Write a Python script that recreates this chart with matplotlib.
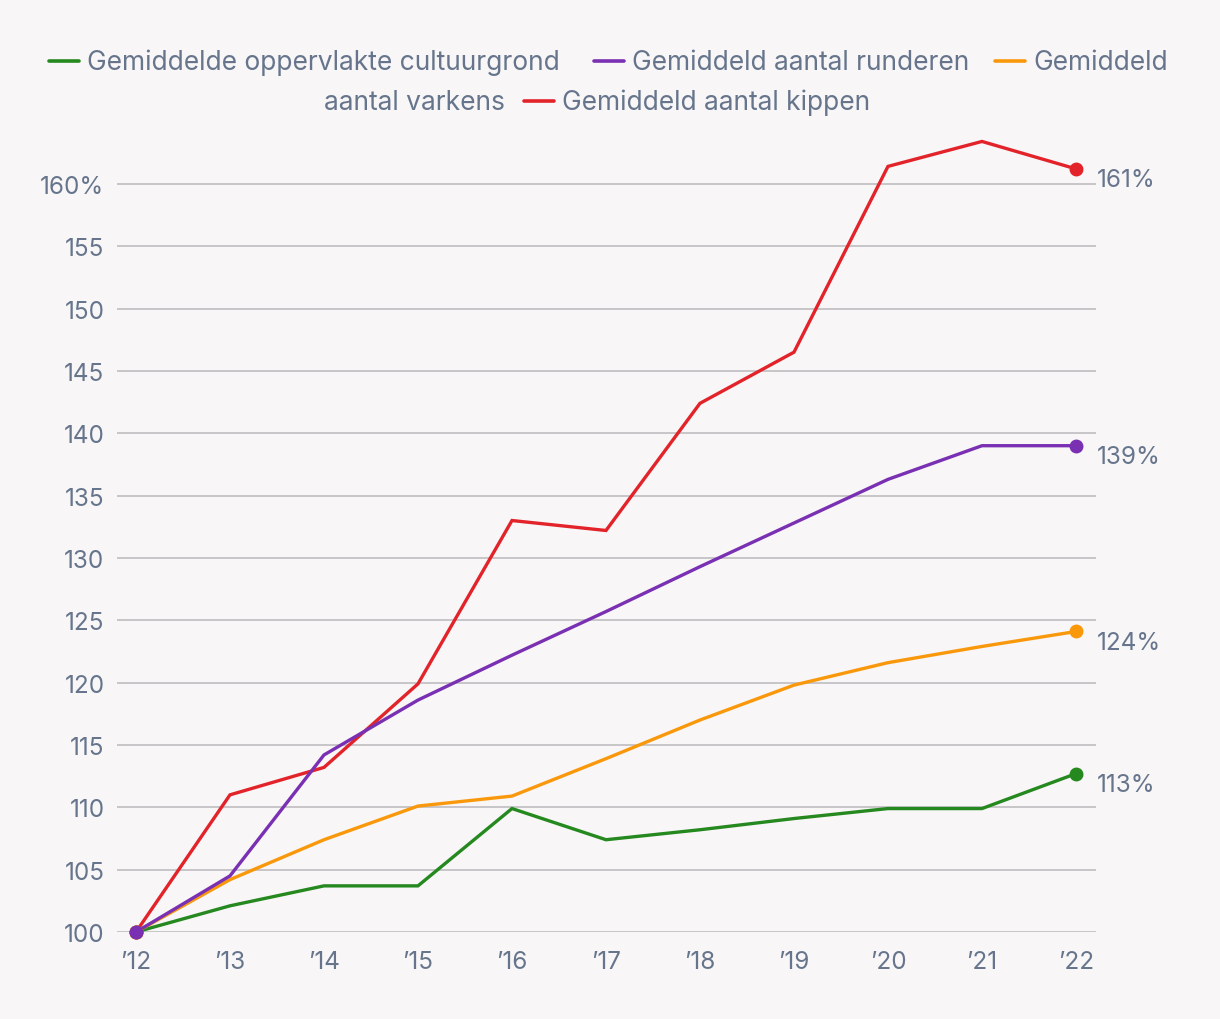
#!/usr/bin/env python3

import matplotlib
matplotlib.use('Agg')
import matplotlib.pyplot as plt
from matplotlib.lines import Line2D
import sys

years = ["’12", "’13", "’14", "’15", "’16", "’17", "’18", "’19", "’20", "’21", "’22"]

cultuurgrond = [100, 102.1, 103.7, 103.7, 109.9, 107.4, 108.2, 109.1, 109.9, 109.9, 112.7]
runderen = [100, 104.5, 114.2, 118.6, 122.2, 125.7, 129.3, 132.8, 136.3, 139.0, 139.0]
varkens = [100, 104.2, 107.4, 110.1, 110.9, 113.9, 117.0, 119.8, 121.6, 122.9, 124.1]
kippen = [100, 111.0, 113.2, 119.9, 133.0, 132.2, 142.4, 146.5, 161.4, 163.4, 161.2]

end_labels = ["113%", "139%", "124%", "161%"]

GREEN = '#25891f'
PURPLE = '#7a30b2'
ORANGE = '#fa980c'
RED = '#e2242a'
TEXT = '#66758c'
GRID = '#c3c1c5'
BG = '#f8f6f7'

W, H = 1220, 1020


def px(x, y):
    return x / W, 1 - y / H


def main():
    plt.rcParams['font.family'] = ['Inter', 'DejaVu Sans']
    fig = plt.figure(figsize=(W / 100, H / 100), dpi=100, facecolor=BG)
    ax = fig.add_axes([117 / W, 1 - 933 / H, (1096 - 117) / W, (933 - 122.5) / H])
    ax.set_facecolor(BG)

    x = list(range(len(years)))
    series = [
        (cultuurgrond, GREEN, end_labels[0]),
        (varkens, ORANGE, end_labels[2]),
        (kippen, RED, end_labels[3]),
        (runderen, PURPLE, end_labels[1]),
    ]
    for vals, col, lab in series:
        ax.plot(x, vals, color=col, lw=2.4, solid_joinstyle='miter', zorder=3, clip_on=False)
        ax.plot([x[0], x[-1]], [vals[0], vals[-1]], 'o', color=col, ms=9, zorder=4, clip_on=False)
        ax.annotate(lab, (x[-1], vals[-1]), xytext=(15, -8), textcoords='offset points',
                    ha='left', va='center', fontsize=17.5, color=TEXT)

    ax.set_xlim(-0.202, 10.213)
    ax.set_ylim(100, 165)
    yt = list(range(100, 161, 5))
    ax.set_yticks(yt)
    ax.set_yticklabels([str(v) if v != 160 else '160%' for v in yt])
    ax.set_xticks(x)
    ax.set_xticklabels(years)
    for v in yt:
        ax.axhline(v, color=GRID, lw=1.3, zorder=1)
    ax.tick_params(axis='both', length=0, labelsize=17.5, labelcolor=TEXT)
    ax.tick_params(axis='y', pad=9)
    ax.tick_params(axis='x', pad=13)
    for s in ax.spines.values():
        s.set_visible(False)

    # legend, laid out by hand (wraps over two rows like the original)
    items = [
        (GREEN, 49, 63, 'Gemiddelde oppervlakte cultuurgrond'),
        (PURPLE, 594, 63, 'Gemiddeld aantal runderen'),
        (ORANGE, 995, 63, 'Gemiddeld'),
        (RED, 524, 103, 'Gemiddeld aantal kippen'),
    ]
    for col, lx, ly, txt in items:
        x0, y0 = px(lx, ly - 1)
        x1, _ = px(lx + 30, ly)
        fig.add_artist(Line2D([x0, x1], [y0, y0], color=col, lw=2.6, solid_capstyle='round'))
        tx, ty = px(lx + 38, ly)
        fig.text(tx, ty, txt, ha='left', va='center', fontsize=19, color=TEXT)
    tx, ty = px(324, 103)
    fig.text(tx, ty, 'aantal varkens', ha='left', va='center', fontsize=19, color=TEXT)

    fig.savefig('out.png', dpi=100, facecolor=BG)


if __name__ == '__main__':
    sys.exit(main())
